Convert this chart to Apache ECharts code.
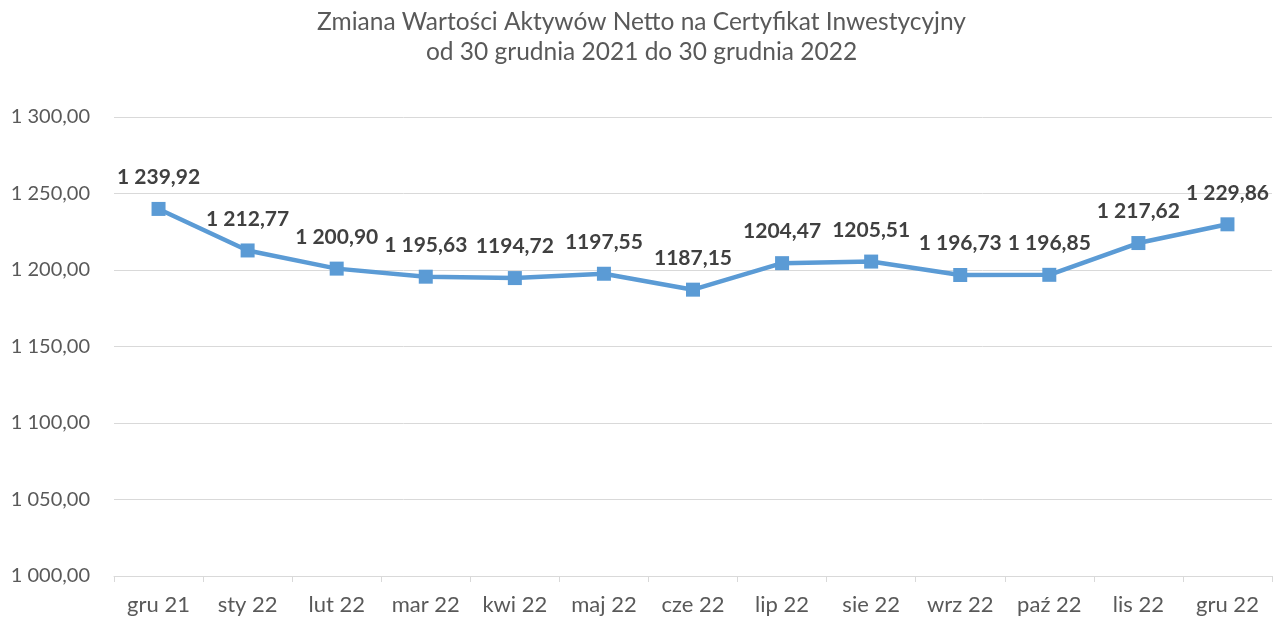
<!DOCTYPE html>
<html>
<head>
<meta charset="utf-8">
<script src="https://cdn.jsdelivr.net/npm/echarts@6/dist/echarts.min.js"></script>
<style>
  html, body { margin: 0; padding: 0; background: #fff; }
  #chart { width: 1283px; height: 619px; }
</style>
</head>
<body>
<div id="chart"></div>
<script>
const categories = [ 'gru 21', 'sty 22', 'lut 22', 'mar 22', 'kwi 22', 'maj 22', 'cze 22',
  'lip 22', 'sie 22', 'wrz 22', 'paź 22', 'lis 22', 'gru 22' ]
const navValues = [ 1239.92, 1212.77, 1200.90, 1195.63, 1194.72, 1197.55, 1187.15,
  1204.47, 1205.51, 1196.73, 1196.85, 1217.62, 1229.86 ]
const valueLabels = [ '1 239,92', '1 212,77', '1 200,90', '1 195,63', '1194,72', '1197,55', '1187,15',
  '1204,47', '1205,51', '1 196,73', '1 196,85', '1 217,62', '1 229,86' ]

const fontFamily = 'Lato, "Open Sans", sans-serif'

const formatAxis = v => {
  const parts = v.toFixed( 2 ).split( '.' )
  const intPart = parts[0].replace( /\B(?=(\d{3})+(?!\d))/g, ' ' )
  return intPart + ',' + parts[1]
}

const chart = echarts.init( document.getElementById( 'chart' ) )

chart.setOption( {
  animation : false,
  title : {
    text : 'Zmiana Wartości Aktywów Netto na Certyfikat Inwestycyjny\nod 30 grudnia 2021 do 30 grudnia 2022',
    left : 'center',
    top : 2,
    textStyle : {
      color : '#595959',
      fontFamily,
      fontSize : 24.5,
      fontWeight : 'normal',
      lineHeight : 30
    }
  },
  grid : {
    left : 114,
    right : 11,
    top : 117,
    bottom : 43
  },
  xAxis : {
    type : 'category',
    data : categories,
    boundaryGap : true,
    axisLine : { lineStyle : { color : '#d9d9d9', width : 1 }},
    axisTick : { show : true, length : 6, lineStyle : { color : '#d9d9d9' }},
    axisLabel : {
      color : '#595959',
      fontFamily,
      fontSize : 22,
      margin : 18
    }
  },
  yAxis : {
    type : 'value',
    min : 1000,
    max : 1300,
    interval : 50,
    axisLine : { show : false },
    axisTick : { show : false },
    splitLine : { lineStyle : { color : '#d9d9d9', width : 1 }},
    axisLabel : {
      color : '#595959',
      fontFamily,
      fontSize : 20,
      margin : 24,
      formatter : formatAxis
    }
  },
  series : [
    {
      type : 'line',
      data : navValues,
      symbol : 'rect',
      symbolSize : 14,
      lineStyle : { color : '#5b9bd5', width : 4.5 },
      itemStyle : { color : '#5b9bd5' },
      label : {
        show : true,
        position : 'top',
        distance : 14,
        color : '#404040',
        fontFamily,
        fontSize : 21,
        fontWeight : 'bold',
        formatter : p => valueLabels[p.dataIndex]
      }
    }
  ]
} )
</script>
</body>
</html>
